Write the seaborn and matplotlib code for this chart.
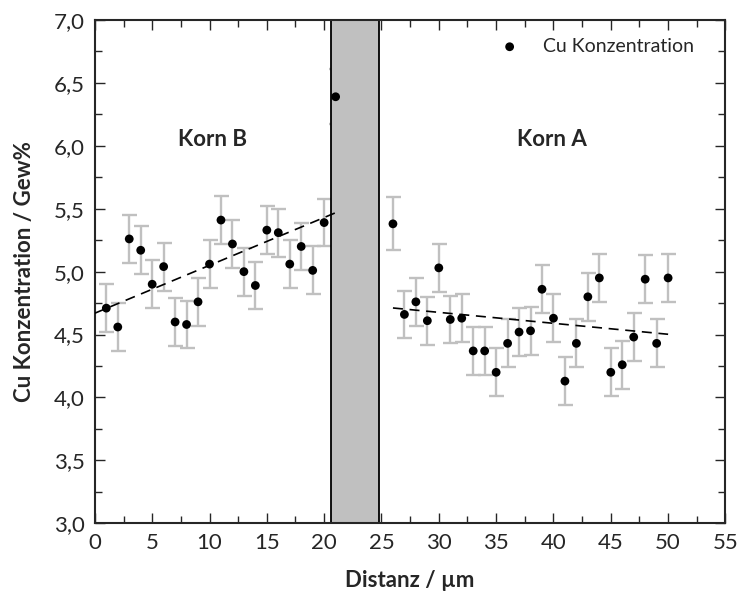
import numpy as np
import pandas as pd
import matplotlib
matplotlib.use('Agg')
import matplotlib.pyplot as plt
from matplotlib.ticker import MultipleLocator, FuncFormatter
import seaborn as sns

# Messwerte (Distanz in µm, Cu in Gew%)
distanz = [1, 2, 3, 4, 5, 6, 7, 8, 9, 10, 11, 12, 13, 14, 15, 16, 17, 18, 19, 20, 21,
           26, 27, 28, 29, 30, 31, 32, 33, 34, 35, 36, 37, 38, 39, 40, 41, 42, 43, 44,
           45, 46, 47, 48, 49, 50]
cu = [4.71, 4.56, 5.26, 5.17, 4.90, 5.04, 4.60, 4.58, 4.76, 5.06, 5.41, 5.22, 5.00, 4.89,
      5.33, 5.31, 5.06, 5.20, 5.01, 5.39, 6.39,
      5.38, 4.66, 4.76, 4.61, 5.03, 4.62, 4.63, 4.37, 4.37, 4.20, 4.43, 4.52, 4.53, 4.86,
      4.63, 4.13, 4.43, 4.80, 4.95, 4.20, 4.26, 4.48, 4.94, 4.43, 4.95]
fehler = [0.19] * 20 + [0.22] + [0.21] + [0.19] * 24

# Korngrenze (grauer Bereich)
grenze = [20.6, 24.75]
# Bereiche fuer die linearen Fits
korn_b_bereich = [0, 21]
korn_a_bereich = [26, 50]

dados = pd.DataFrame({'Distanz': distanz, 'Cu': cu, 'Fehler': fehler})

sns.set_style('ticks')
plt.rcParams['font.family'] = ['Lato', 'DejaVu Sans']

fig = plt.figure(figsize=(7.41, 5.99), dpi=100)
ax = fig.add_axes([0.128, 0.1264, 0.851, 0.8402])

# Fehlerbalken
ax.errorbar(dados['Distanz'], dados['Cu'], yerr=dados['Fehler'], fmt='none',
            ecolor='#c0c0c0', elinewidth=1.7, capsize=5.4, capthick=1.7, zorder=1)

# grauer Bereich
ax.axvspan(grenze[0], grenze[1], facecolor='#c0c0c0', edgecolor='black', linewidth=1.3, zorder=2)

# lineare Fits
b = dados[dados['Distanz'] <= 21]
a = dados[dados['Distanz'] >= 26]
pb = np.polyfit(b['Distanz'], b['Cu'], 1)
pa = np.polyfit(a['Distanz'], a['Cu'], 1)
xb = np.array(korn_b_bereich)
xa = np.array(korn_a_bereich)
ax.plot(xb, np.polyval(pb, xb), color='black', linestyle=(0, (6, 4)), linewidth=1.2, zorder=3)
ax.plot(xa, np.polyval(pa, xa), color='black', linestyle=(0, (6, 4)), linewidth=1.2, zorder=3)

# Punkte
sns.scatterplot(data=dados, x='Distanz', y='Cu', ax=ax, color='black', s=40,
                edgecolor='none', label='Cu Konzentration', zorder=4)

ax.text(10.3, 6.05, 'Korn B', fontsize=16, fontweight='bold', ha='center', va='center')
ax.text(39.9, 6.05, 'Korn A', fontsize=16, fontweight='bold', ha='center', va='center')

ax.set_xlim(0, 55)
ax.set_ylim(3, 7)
ax.xaxis.set_major_locator(MultipleLocator(5))
ax.xaxis.set_minor_locator(MultipleLocator(2.5))
ax.yaxis.set_major_locator(MultipleLocator(0.5))
ax.yaxis.set_minor_locator(MultipleLocator(0.25))
ax.yaxis.set_major_formatter(FuncFormatter(lambda v, p: f'{v:.1f}'.replace('.', ',')))
ax.tick_params(which='both', direction='in', top=True, right=True, labelsize=16, width=1)
ax.tick_params(which='major', length=7, pad=7)
ax.tick_params(which='minor', length=5)
for s in ax.spines.values():
    s.set_linewidth(1.5)

ax.set_xlabel('Distanz / µm', fontsize=16, fontweight='bold', labelpad=12)
ax.set_ylabel('Cu Konzentration / Gew%', fontsize=16, fontweight='bold', labelpad=14)

ax.legend(loc='upper right', bbox_to_anchor=(0.962, 0.98), frameon=False, fontsize=14,
          handletextpad=0.7, borderaxespad=0, markerscale=1.0)

fig.savefig('out.png', dpi=100)
